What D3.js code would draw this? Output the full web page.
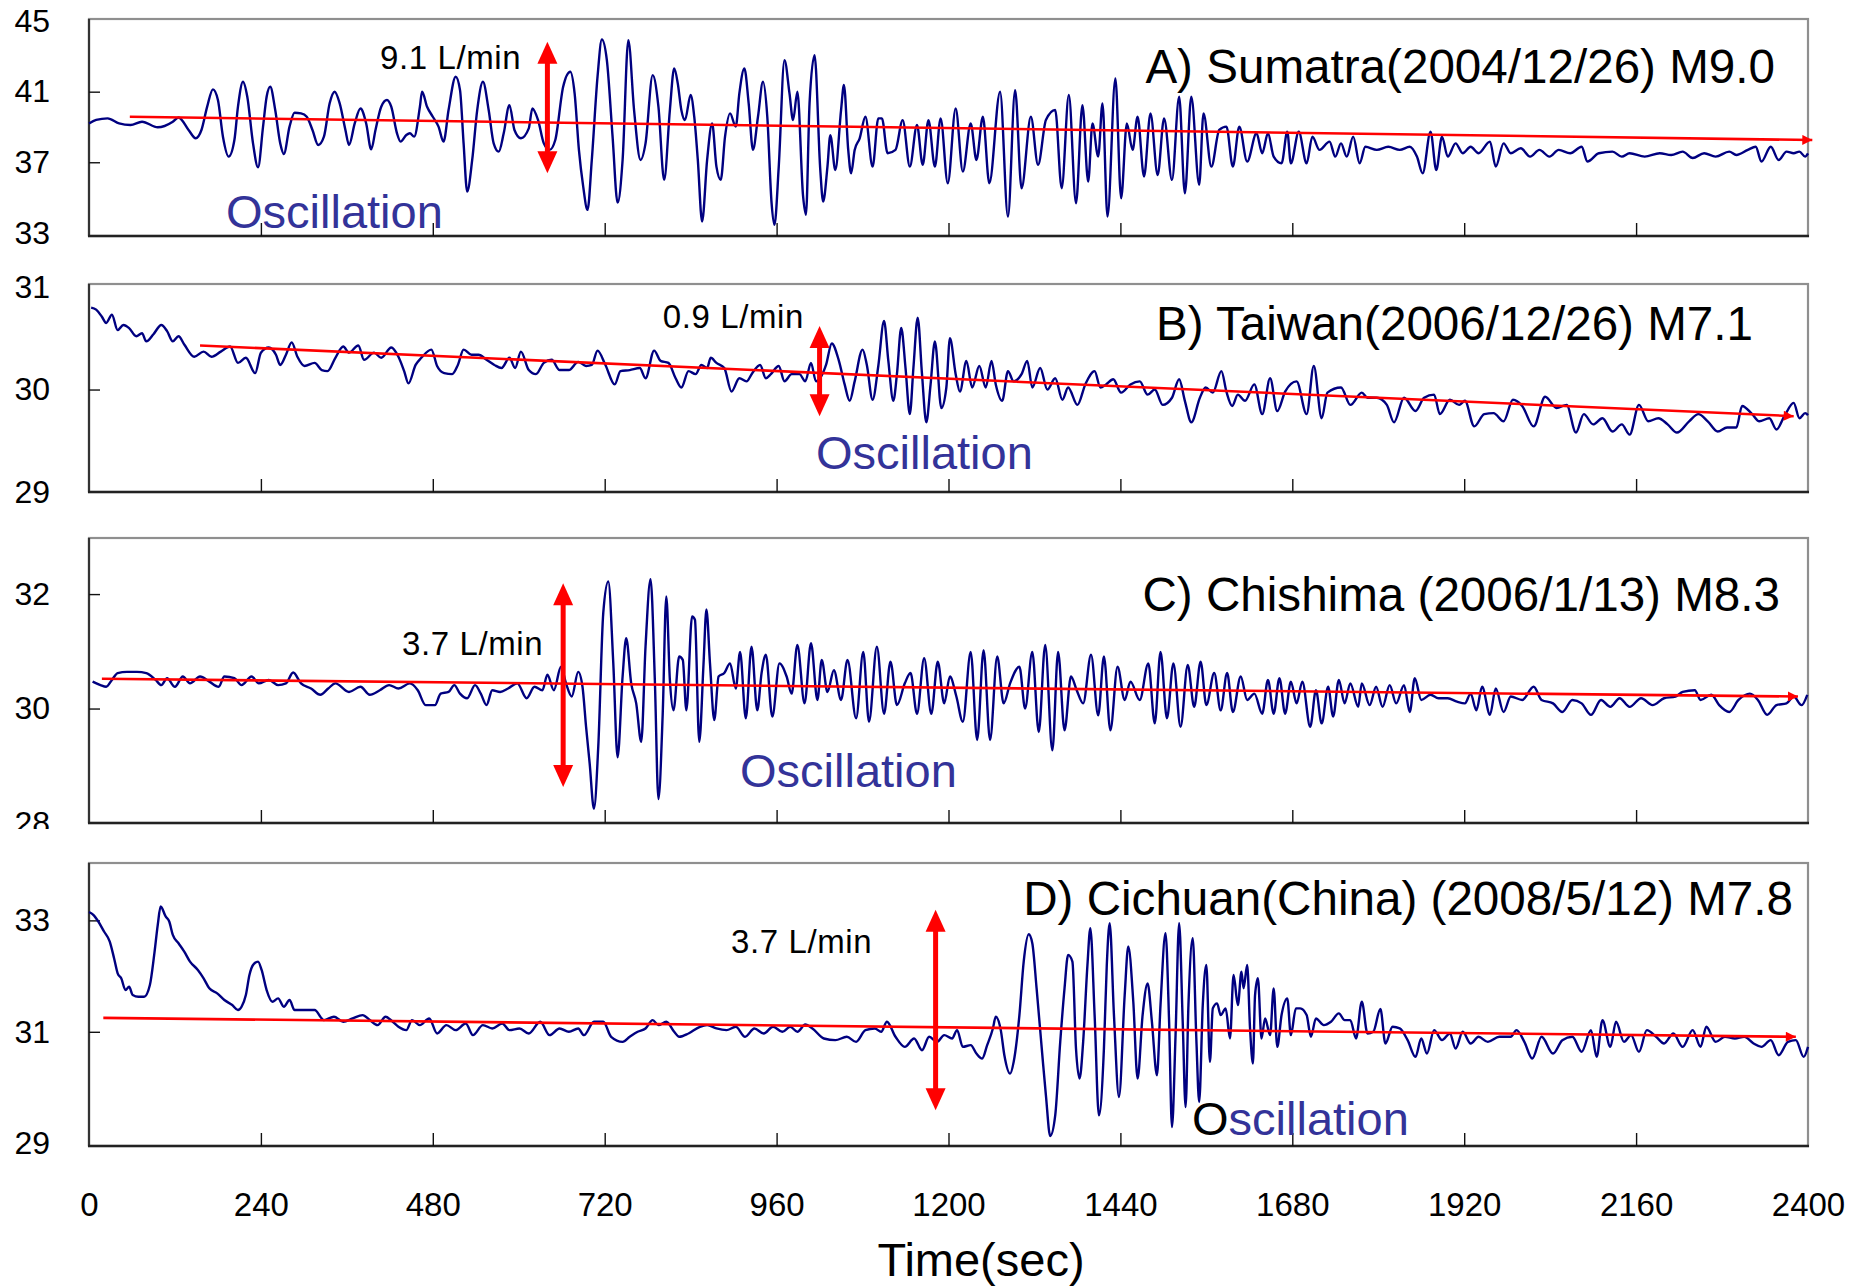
<!DOCTYPE html>
<html><head><meta charset="utf-8">
<script src="https://cdn.jsdelivr.net/npm/d3@7"></script>
<style>
body{margin:0;background:#fff}
text{font-family:"Liberation Sans",Arial,Helvetica,sans-serif}
</style></head>
<body><svg id="chart" width="1864" height="1288"></svg>
<script>
// ---------------- DATA ----------------
const timeTicks = [0,240,480,720,960,1200,1440,1680,1920,2160,2400];
const innerTimeTicks = [240,480,720,960,1200,1440,1680,1920,2160];

// A) Sumatra: [time (s), flow (L/min)]
const sumatra = [[0,39.2],[10,39.4],[26,39.49],[42,39.2],[58,39.11],[74,39.3],[96,38.98],[117,39.3],[125,39.54],[139,38.83],[149,38.36],[157,38.83],[165,40.15],[173,41.13],[180,40.53],[187,38.45],[195,37.32],[203,38.26],[208,40.15],[215,41.56],[221,40.71],[229,38.07],[236,36.71],[243,39.02],[248,40.71],[253,41.28],[260,39.96],[267,38.07],[272,37.47],[280,39.02],[287,39.81],[296,39.77],[304,39.58],[312,38.83],[320,37.98],[328,38.45],[336,40.34],[343,41.0],[350,40.34],[358,38.83],[363,37.98],[371,39.2],[379,40.05],[387,39.2],[394,37.73],[400,38.83],[408,40.15],[416,40.53],[422,40.15],[430,38.64],[435,38.17],[443,38.54],[448,38.64],[454,38.45],[462,40.15],[465,41.0],[472,40.15],[480,39.58],[488,39.02],[495,38.17],[502,39.96],[512,41.85],[518,41.09],[523,38.07],[528,35.34],[535,37.13],[542,39.96],[550,41.56],[558,39.96],[565,38.07],[572,37.6],[579,38.64],[587,40.24],[594,38.83],[603,38.36],[614,38.92],[619,40.05],[627,39.39],[635,38.07],[643,37.7],[651,38.26],[662,41.28],[672,42.13],[678,40.9],[684,37.7],[690,35.62],[696,34.3],[702,37.13],[710,41.85],[716,43.96],[723,42.79],[731,38.45],[738,34.71],[745,37.13],[753,43.92],[761,39.96],[770,37.13],[777,38.07],[787,41.94],[795,40.15],[803,36.0],[811,39.96],[817,42.32],[822,41.47],[827,39.96],[832,39.39],[840,40.81],[845,39.58],[850,37.13],[856,33.64],[863,37.13],[870,39.2],[876,36.75],[882,36.0],[888,38.45],[895,39.77],[903,39.02],[908,40.9],[915,42.32],[921,40.34],[927,37.7],[934,39.58],[941,41.56],[947,39.58],[953,34.68],[957,33.45],[963,36.75],[971,42.79],[978,40.9],[983,39.39],[989,41.0],[997,35.06],[1001,34.02],[1006,40.34],[1013,43.07],[1021,36.56],[1025,34.77],[1031,36.75],[1035,38.54],[1042,36.56],[1050,39.96],[1054,41.38],[1060,37.7],[1064,36.37],[1069,37.7],[1076,38.36],[1084,39.58],[1094,36.75],[1102,39.49],[1107,39.49],[1115,37.51],[1126,37.7],[1136,39.39],[1146,36.75],[1156,39.11],[1164,36.85],[1172,39.39],[1181,36.75],[1189,39.49],[1199,35.81],[1210,40.05],[1220,36.47],[1231,39.2],[1239,37.13],[1248,39.58],[1257,35.81],[1272,41.0],[1283,33.92],[1293,41.09],[1302,35.53],[1315,39.58],[1325,36.85],[1336,39.39],[1349,39.96],[1358,35.53],[1368,40.81],[1378,34.68],[1387,40.24],[1395,35.9],[1401,39.2],[1409,37.32],[1415,40.34],[1422,33.92],[1433,41.75],[1441,34.96],[1449,39.2],[1457,37.7],[1464,39.58],[1473,36.19],[1482,39.77],[1492,36.28],[1501,39.49],[1512,36.0],[1522,40.71],[1530,35.24],[1539,40.71],[1550,35.72],[1556,39.77],[1567,36.75],[1578,38.83],[1588,39.02],[1597,36.75],[1606,39.02],[1617,37.04],[1630,38.64],[1638,37.51],[1646,38.64],[1654,37.32],[1665,36.94],[1673,38.73],[1678,36.94],[1689,38.73],[1700,36.94],[1708,38.45],[1718,37.7],[1732,38.17],[1740,37.32],[1748,38.07],[1756,37.32],[1765,38.45],[1774,36.94],[1782,37.88],[1798,37.7],[1814,37.88],[1830,37.7],[1844,37.88],[1854,37.32],[1862,36.37],[1873,38.73],[1881,36.56],[1889,38.45],[1897,37.32],[1908,38.07],[1918,37.51],[1929,37.88],[1940,37.51],[1956,38.17],[1964,36.75],[1975,38.07],[1985,37.51],[1999,37.79],[2012,37.32],[2025,37.7],[2039,37.32],[2052,37.7],[2068,37.51],[2084,37.88],[2092,37.04],[2108,37.51],[2127,37.6],[2140,37.32],[2151,37.51],[2172,37.32],[2193,37.51],[2209,37.41],[2225,37.6],[2239,37.24],[2255,37.51],[2271,37.32],[2290,37.6],[2300,37.41],[2316,37.7],[2327,37.88],[2335,37.04],[2348,37.88],[2359,37.13],[2370,37.6],[2380,37.51],[2388,37.6],[2396,37.32],[2400,37.5]];

// B) Taiwan
const taiwan = [[3,30.8],[10,30.78],[18,30.71],[24,30.65],[32,30.73],[40,30.58],[48,30.63],[56,30.6],[66,30.52],[74,30.55],[80,30.47],[90,30.54],[101,30.63],[109,30.57],[117,30.47],[125,30.52],[133,30.44],[147,30.32],[160,30.37],[171,30.32],[184,30.37],[197,30.42],[208,30.26],[219,30.31],[232,30.16],[240,30.36],[251,30.41],[261,30.34],[267,30.24],[275,30.34],[283,30.46],[291,30.32],[301,30.23],[315,30.26],[325,30.19],[333,30.18],[344,30.31],[355,30.42],[363,30.36],[376,30.43],[384,30.29],[398,30.36],[408,30.31],[422,30.41],[432,30.32],[440,30.18],[446,30.06],[456,30.24],[464,30.31],[478,30.39],[486,30.23],[496,30.16],[507,30.15],[515,30.24],[523,30.39],[534,30.34],[544,30.34],[555,30.29],[566,30.24],[576,30.21],[587,30.31],[595,30.21],[603,30.37],[614,30.19],[624,30.15],[635,30.26],[646,30.29],[657,30.19],[670,30.19],[683,30.27],[694,30.23],[702,30.24],[710,30.38],[721,30.24],[734,30.05],[742,30.18],[755,30.19],[769,30.21],[777,30.11],[789,30.38],[798,30.28],[809,30.26],[819,30.11],[827,30.02],[837,30.18],[847,30.15],[855,30.24],[863,30.21],[868,30.31],[876,30.26],[887,30.21],[897,29.98],[908,30.11],[918,30.08],[926,30.16],[937,30.24],[945,30.11],[952,30.15],[963,30.23],[971,30.08],[981,30.15],[992,30.15],[1000,30.08],[1008,30.26],[1015,30.08],[1029,30.24],[1037,30.45],[1047,30.28],[1055,30.05],[1062,29.89],[1069,30.08],[1080,30.39],[1086,30.24],[1094,29.9],[1102,30.23],[1110,30.67],[1116,30.28],[1123,29.89],[1128,30.15],[1134,30.6],[1140,30.21],[1146,29.76],[1151,30.21],[1157,30.7],[1163,30.15],[1169,29.68],[1175,30.05],[1181,30.47],[1190,29.82],[1197,30.02],[1202,30.5],[1210,30.15],[1216,29.98],[1225,30.28],[1233,30.02],[1243,30.23],[1252,30.02],[1260,30.28],[1266,30.05],[1275,29.89],[1283,30.18],[1291,30.08],[1302,30.15],[1310,30.28],[1317,30.02],[1328,30.21],[1338,30.0],[1349,30.11],[1359,29.9],[1367,30.02],[1380,29.85],[1391,30.05],[1404,30.18],[1412,30.02],[1420,30.05],[1430,30.1],[1441,29.97],[1454,30.05],[1467,30.08],[1478,29.95],[1488,30.0],[1499,29.85],[1512,29.92],[1522,30.1],[1530,29.89],[1539,29.68],[1551,29.92],[1559,30.02],[1569,29.97],[1581,30.18],[1588,29.98],[1596,29.84],[1604,29.95],[1614,29.89],[1627,30.05],[1638,29.76],[1649,30.11],[1659,29.79],[1670,29.98],[1686,30.08],[1700,29.76],[1710,30.23],[1721,29.72],[1729,29.97],[1748,30.02],[1761,29.85],[1777,29.97],[1785,29.92],[1798,29.92],[1812,29.85],[1822,29.68],[1836,29.92],[1852,29.79],[1864,29.92],[1878,29.95],[1886,29.76],[1900,29.9],[1913,29.85],[1921,29.89],[1934,29.64],[1948,29.76],[1961,29.77],[1975,29.69],[1988,29.9],[2001,29.84],[2017,29.64],[2033,29.93],[2049,29.82],[2063,29.85],[2076,29.58],[2087,29.76],[2100,29.66],[2113,29.72],[2127,29.59],[2140,29.66],[2151,29.56],[2164,29.85],[2177,29.69],[2191,29.72],[2204,29.66],[2217,29.58],[2234,29.69],[2247,29.76],[2260,29.69],[2274,29.59],[2287,29.63],[2300,29.63],[2308,29.84],[2322,29.76],[2332,29.69],[2346,29.72],[2356,29.61],[2367,29.74],[2380,29.87],[2388,29.72],[2396,29.77],[2400,29.75]];

// C) Chishima
const chishima = [[5,30.47],[16,30.41],[24,30.38],[32,30.5],[40,30.62],[53,30.64],[67,30.64],[80,30.62],[93,30.5],[101,30.41],[109,30.53],[120,30.38],[131,30.56],[141,30.44],[155,30.56],[168,30.47],[181,30.38],[189,30.56],[203,30.53],[213,30.41],[227,30.56],[237,30.44],[251,30.5],[264,30.41],[275,30.44],[285,30.63],[296,30.44],[310,30.35],[323,30.24],[334,30.35],[344,30.44],[363,30.29],[379,30.38],[392,30.24],[406,30.32],[419,30.41],[432,30.35],[448,30.44],[459,30.32],[470,30.06],[483,30.06],[491,30.26],[502,30.29],[510,30.41],[518,30.26],[528,30.18],[539,30.41],[547,30.26],[555,30.06],[563,30.32],[574,30.29],[585,30.35],[598,30.44],[611,30.18],[622,30.38],[633,30.32],[640,30.59],[649,30.32],[659,30.73],[666,30.44],[674,30.21],[683,30.64],[689,30.38],[694,29.68],[699,29.04],[705,28.25],[711,29.33],[718,31.67],[725,32.22],[732,30.79],[738,29.15],[745,30.56],[750,31.23],[757,30.44],[764,30.09],[771,29.42],[777,31.08],[784,32.26],[790,30.5],[795,28.42],[801,29.91],[806,31.96],[811,30.5],[816,29.97],[824,30.91],[829,30.85],[834,29.97],[842,31.61],[846,31.55],[852,29.42],[858,30.79],[862,31.73],[867,30.79],[873,29.8],[879,30.56],[887,30.62],[895,30.79],[903,30.35],[909,30.99],[917,29.83],[925,31.08],[933,29.97],[939,30.62],[945,30.94],[954,29.86],[964,30.79],[974,30.56],[981,30.26],[989,31.11],[999,30.09],[1008,31.14],[1017,30.15],[1023,30.85],[1031,30.29],[1040,30.67],[1050,30.15],[1059,30.85],[1071,29.83],[1081,30.99],[1089,29.77],[1100,31.08],[1110,29.91],[1119,30.82],[1128,30.06],[1139,30.44],[1147,30.62],[1156,29.91],[1166,30.88],[1176,29.91],[1185,30.82],[1194,30.09],[1202,30.56],[1211,30.21],[1220,29.77],[1231,30.99],[1240,29.45],[1249,31.02],[1258,29.45],[1268,30.91],[1277,30.09],[1286,30.44],[1299,30.73],[1307,30.0],[1317,30.99],[1326,29.59],[1335,31.11],[1345,29.27],[1353,30.99],[1362,29.62],[1371,30.56],[1379,30.32],[1388,30.09],[1399,30.94],[1409,29.88],[1417,30.91],[1426,29.62],[1436,30.73],[1446,30.15],[1454,30.47],[1467,30.15],[1479,30.79],[1488,29.74],[1496,30.99],[1505,29.83],[1514,30.79],[1524,29.68],[1534,30.76],[1543,30.03],[1552,30.82],[1560,30.06],[1571,30.62],[1580,29.97],[1589,30.62],[1597,29.94],[1608,30.56],[1617,30.15],[1627,30.26],[1638,29.91],[1646,30.5],[1654,29.91],[1662,30.53],[1670,29.91],[1678,30.47],[1686,30.09],[1694,30.47],[1705,29.68],[1713,30.32],[1721,29.74],[1730,30.38],[1737,29.86],[1745,30.5],[1753,30.09],[1761,30.44],[1772,30.03],[1777,30.44],[1788,30.06],[1797,30.38],[1806,30.03],[1816,30.41],[1825,30.09],[1836,30.41],[1844,29.94],[1851,30.53],[1860,30.15],[1873,30.24],[1884,30.18],[1897,30.18],[1910,30.12],[1921,30.09],[1929,30.26],[1937,29.97],[1945,30.38],[1956,29.89],[1964,30.35],[1975,29.94],[1985,30.21],[2001,30.15],[2017,30.38],[2028,30.15],[2044,30.09],[2057,29.94],[2071,30.15],[2084,30.09],[2097,29.89],[2111,30.15],[2124,30.03],[2137,30.18],[2151,30.03],[2167,30.18],[2183,30.06],[2199,30.18],[2215,30.21],[2225,30.29],[2242,30.32],[2250,30.15],[2265,30.24],[2276,30.06],[2290,29.94],[2303,30.15],[2319,30.26],[2330,30.15],[2343,29.89],[2356,30.06],[2370,30.09],[2380,30.21],[2391,30.06],[2399,30.24]];

// D) Cichuan (China)
const cichuan = [[0,33.15],[6,33.1],[13,32.98],[21,32.8],[29,32.62],[35,32.32],[40,32.05],[45,31.96],[51,31.75],[56,31.81],[61,31.66],[69,31.63],[77,31.63],[85,31.84],[91,32.38],[96,32.92],[100,33.25],[107,33.07],[112,32.98],[117,32.74],[125,32.59],[133,32.44],[141,32.26],[152,32.11],[160,31.96],[168,31.78],[179,31.69],[189,31.57],[200,31.48],[208,31.39],[213,31.45],[219,31.66],[224,32.02],[229,32.2],[236,32.26],[241,32.11],[248,31.75],[256,31.54],[264,31.6],[272,31.45],[280,31.57],[287,31.39],[301,31.39],[315,31.39],[328,31.21],[342,31.27],[355,31.18],[368,31.24],[382,31.3],[392,31.21],[403,31.12],[414,31.27],[424,31.18],[432,31.09],[443,31.03],[451,31.21],[462,31.12],[475,31.24],[486,30.97],[499,31.12],[512,31.03],[526,31.15],[536,30.94],[550,31.12],[563,31.06],[577,31.15],[587,31.03],[601,31.06],[614,30.97],[630,31.18],[643,30.94],[657,31.06],[670,31.0],[683,31.06],[691,30.94],[705,31.18],[718,31.18],[729,30.91],[745,30.82],[755,30.91],[766,31.0],[777,31.06],[787,31.21],[795,31.12],[806,31.18],[817,31.0],[824,30.91],[837,30.97],[853,31.09],[863,31.12],[876,31.06],[890,31.03],[903,31.09],[916,30.91],[929,31.06],[942,30.97],[955,31.09],[968,31.0],[979,31.09],[989,31.0],[1000,31.13],[1010,31.06],[1026,30.88],[1042,30.85],[1058,30.91],[1071,30.82],[1084,31.03],[1097,31.06],[1106,31.0],[1114,31.18],[1126,30.91],[1139,30.73],[1152,30.88],[1163,30.67],[1173,30.91],[1184,30.82],[1194,30.94],[1205,30.88],[1212,31.03],[1220,30.73],[1231,30.76],[1239,30.61],[1247,30.52],[1254,30.76],[1262,31.06],[1266,31.27],[1273,31.03],[1278,30.58],[1286,30.25],[1291,30.46],[1299,31.3],[1305,32.26],[1312,32.75],[1317,32.59],[1323,31.78],[1331,30.58],[1336,29.86],[1342,29.13],[1349,29.5],[1356,30.82],[1362,31.78],[1367,32.38],[1373,32.26],[1378,30.7],[1383,30.16],[1388,30.82],[1394,32.2],[1398,32.86],[1404,31.3],[1410,29.5],[1417,30.7],[1421,32.2],[1425,32.95],[1431,31.3],[1438,29.83],[1446,31.66],[1451,32.53],[1458,31.54],[1464,30.16],[1471,31.3],[1478,31.87],[1484,31.18],[1491,30.22],[1496,31.48],[1503,32.77],[1508,31.18],[1512,29.29],[1517,30.94],[1522,32.95],[1527,31.18],[1531,29.65],[1535,31.48],[1541,32.68],[1546,30.88],[1550,29.74],[1555,31.48],[1560,32.2],[1565,30.46],[1569,31.42],[1575,31.51],[1580,31.3],[1587,31.42],[1593,30.88],[1598,32.02],[1604,31.48],[1609,32.08],[1612,31.78],[1617,32.2],[1621,31.06],[1625,30.43],[1628,31.66],[1632,31.96],[1637,30.88],[1642,31.24],[1649,30.94],[1654,31.78],[1659,30.73],[1665,31.3],[1673,31.6],[1678,30.94],[1685,31.42],[1691,31.42],[1700,31.3],[1706,30.91],[1713,31.24],[1724,31.12],[1734,31.18],[1745,31.33],[1753,31.21],[1761,31.21],[1769,30.88],[1777,31.54],[1785,30.97],[1793,31.0],[1803,31.41],[1810,30.79],[1820,31.09],[1830,31.06],[1841,30.85],[1852,30.55],[1860,30.88],[1868,30.61],[1878,31.03],[1889,30.85],[1900,30.97],[1908,30.7],[1918,31.0],[1929,30.79],[1940,30.91],[1953,30.82],[1969,30.91],[1985,30.91],[1993,31.03],[2004,30.82],[2015,30.52],[2028,30.91],[2044,30.61],[2057,30.85],[2071,30.91],[2084,30.64],[2097,31.03],[2105,30.55],[2113,31.21],[2124,30.73],[2132,31.18],[2143,30.82],[2153,30.94],[2164,30.64],[2175,31.03],[2188,30.91],[2199,30.79],[2212,30.97],[2225,30.73],[2239,31.03],[2250,30.73],[2258,31.09],[2271,30.82],[2284,30.91],[2298,30.88],[2311,30.91],[2324,30.79],[2335,30.73],[2348,30.85],[2359,30.58],[2372,30.82],[2383,30.85],[2394,30.55],[2400,30.73]];

// trend lines: [[t0,v0],[t1,v1]]
const trendA = [[57,39.58],[2406,38.26]];
const trendB = [[155,30.43],[2380,29.74]];
const trendC = [[18,30.52],[2386,30.21]];
const trendD = [[20,31.25],[2383,30.91]];

// amplitude arrows: [time, low, high]
const ampA = [640,36.37,43.83];
const ampB = [1020,29.74,30.62];
const ampC = [662,28.63,32.19];
const ampD = [1182,29.59,33.19];

const titles = ["A) Sumatra(2004/12/26) M9.0","B) Taiwan(2006/12/26) M7.1","C) Chishima (2006/1/13) M8.3","D) Cichuan(China) (2008/5/12) M7.8"];
const ampLabels = ["9.1 L/min","0.9 L/min","3.7 L/min","3.7 L/min"];
const yLabelTicks = [[33,37,41,45],[29,30,31],[28,30,32],[29,31,33]];
const yInnerTicks = [[37,41],[30],[30,32],[31,33]];

// ---------------- LAYOUT ----------------
const L = 89, R = 1808;
const panels = [
  {data:sumatra, trend:trendA, amp:ampA, domain:[32.82,45.12], top:19, bottom:236,
   title:{x:1775,y:83}, ampText:{x:380,y:69,anchor:"start"}, osc:{x:226,y:228}},
  {data:taiwan, trend:trendB, amp:ampB, domain:[29.0,31.03], top:284, bottom:492,
   title:{x:1753,y:340}, ampText:{x:804,y:328,anchor:"end"}, osc:{x:816,y:469}},
  {data:chishima, trend:trendC, amp:ampC, domain:[28,32.98], top:538, bottom:823,
   title:{x:1780,y:611}, ampText:{x:402,y:655,anchor:"start"}, osc:{x:740,y:787}},
  {data:cichuan, trend:trendD, amp:ampD, domain:[28.95,34.03], top:863, bottom:1146,
   title:{x:1793,y:915}, ampText:{x:731,y:953,anchor:"start"}, osc:{x:1192,y:1135, blackO:true}}
];

const svg = d3.select("#chart");
const defs = svg.append("defs");
defs.append("marker").attr("id","tri").attr("viewBox","0 0 10 10")
  .attr("refX",10).attr("refY",5).attr("markerUnits","userSpaceOnUse")
  .attr("markerWidth",12).attr("markerHeight",10).attr("orient","auto")
  .append("path").attr("d","M0,0 L10,5 L0,10 Z").attr("fill","#ff0000");
// clip for the partly hidden "28" label (local coords of the label group)
defs.append("clipPath").attr("id","clip28").append("rect")
  .attr("x",-80).attr("y",0).attr("width",120).attr("height",829);

const x = d3.scaleLinear().domain([0,2400]).range([L,R]);

panels.forEach((p,i) => {
  const y = d3.scaleLinear().domain(p.domain).range([p.bottom,p.top]);
  const g = svg.append("g");

  // frame
  g.append("rect").attr("x",L).attr("y",p.top).attr("width",R-L).attr("height",p.bottom-p.top)
    .attr("fill","none").attr("stroke","#8f8f8f").attr("stroke-width",2.2);
  g.append("line").attr("x1",L).attr("x2",L).attr("y1",p.top).attr("y2",p.bottom)
    .attr("stroke","#333").attr("stroke-width",2.2);
  g.append("line").attr("x1",L-1).attr("x2",R+1).attr("y1",p.bottom).attr("y2",p.bottom)
    .attr("stroke","#222").attr("stroke-width",2.5);

  // inner x ticks
  const xa = g.append("g").attr("transform",`translate(0,${p.bottom})`)
    .call(d3.axisTop(x).tickValues(innerTimeTicks).tickSize(13).tickFormat(""));
  xa.select(".domain").remove();
  xa.selectAll("line").attr("stroke","#111").attr("stroke-width",1.4);

  // inner y ticks
  const ya = g.append("g").attr("transform",`translate(${L},0)`)
    .call(d3.axisRight(y).tickValues(yInnerTicks[i]).tickSize(11).tickFormat(""));
  ya.select(".domain").remove();
  ya.selectAll("line").attr("stroke","#111").attr("stroke-width",1.4);

  // y labels
  const yl = g.append("g").attr("transform","translate(50,0)")
    .call(d3.axisLeft(y).tickValues(yLabelTicks[i]).tickSize(0).tickPadding(0).tickFormat(d3.format("d")));
  yl.select(".domain").remove();
  yl.selectAll("text").attr("font-size",32).attr("fill","#000")
    .attr("font-family",'"Liberation Sans",Arial,sans-serif');
  if (i===2) yl.attr("clip-path","url(#clip28)");

  // data line
  g.append("path").datum(p.data)
    .attr("d", d3.line().curve(d3.curveMonotoneX).x(d=>x(d[0])).y(d=>y(d[1])))
    .attr("fill","none").attr("stroke","#000080").attr("stroke-width",2.4)
    .attr("stroke-linejoin","round");

  // trend line
  g.append("line")
    .attr("x1",x(p.trend[0][0])).attr("y1",y(p.trend[0][1]))
    .attr("x2",x(p.trend[1][0])).attr("y2",y(p.trend[1][1]))
    .attr("stroke","#ff0000").attr("stroke-width",2.6).attr("marker-end","url(#tri)");

  // amplitude arrow
  const ax = x(p.amp[0]), yLo = y(p.amp[1]), yHi = y(p.amp[2]);
  const hw = 10, hh = 22;
  g.append("line").attr("x1",ax).attr("x2",ax).attr("y1",yHi+hh-2).attr("y2",yLo-hh+2)
    .attr("stroke","#ff0000").attr("stroke-width",5);
  g.append("path").attr("d",`M${ax},${yHi} L${ax+hw},${yHi+hh} L${ax-hw},${yHi+hh} Z`).attr("fill","#ff0000");
  g.append("path").attr("d",`M${ax},${yLo} L${ax+hw},${yLo-hh} L${ax-hw},${yLo-hh} Z`).attr("fill","#ff0000");

  // amplitude label
  g.append("text").attr("x",p.ampText.x).attr("y",p.ampText.y)
    .attr("text-anchor",p.ampText.anchor).attr("font-size",33).attr("letter-spacing",0.6)
    .attr("fill","#000").text(ampLabels[i]);

  // title
  g.append("text").attr("x",p.title.x).attr("y",p.title.y).attr("text-anchor","end")
    .attr("font-size",47.6).attr("fill","#000").text(titles[i]);

  // Oscillation label
  const ot = g.append("text").attr("x",p.osc.x).attr("y",p.osc.y)
    .attr("font-size",47).attr("fill","#333399");
  if (p.osc.blackO) {
    ot.append("tspan").attr("fill","#000").text("O");
    ot.append("tspan").text("scillation");
  } else ot.text("Oscillation");
});

// bottom axis labels
const xl = svg.append("g").attr("transform","translate(0,1193)")
  .call(d3.axisBottom(x).tickValues(timeTicks).tickSize(0).tickPadding(0).tickFormat(d3.format("d")));
xl.select(".domain").remove();
xl.selectAll("text").attr("font-size",33).attr("fill","#000")
  .attr("font-family",'"Liberation Sans",Arial,sans-serif');

svg.append("text").attr("x",981).attr("y",1276).attr("text-anchor","middle")
  .attr("font-size",47).attr("fill","#000").text("Time(sec)");
</script>
</body></html>
